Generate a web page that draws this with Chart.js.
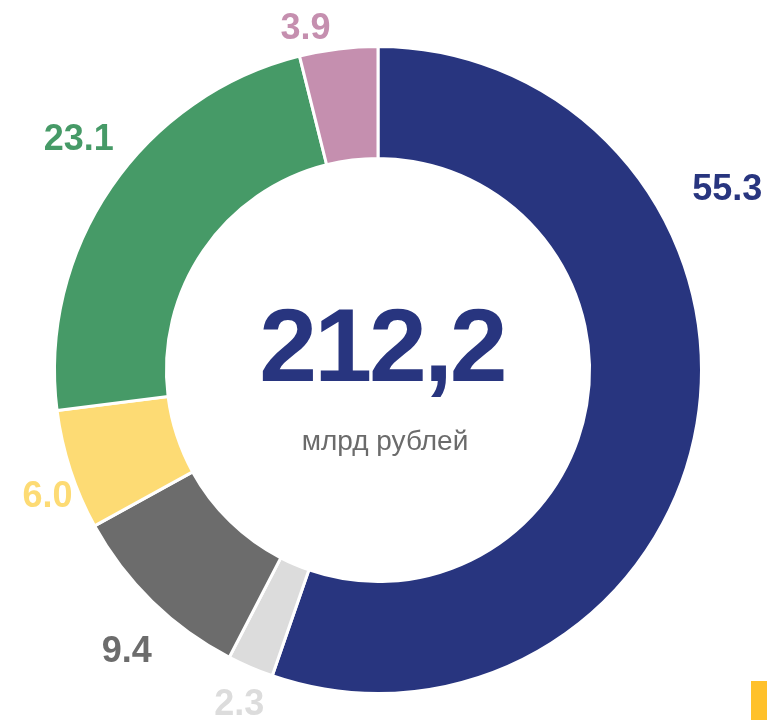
<!DOCTYPE html>
<html lang="ru">
<head>
<meta charset="utf-8">
<title>212,2 млрд рублей</title>
<script src="https://cdn.jsdelivr.net/npm/chart.js@4.4.1/dist/chart.umd.min.js"></script>
<style>
	html, body { margin: 0; padding: 0; background: #ffffff; }
	.wrap { position: relative; width: 767px; height: 720px; overflow: hidden; }
	.marker { position: absolute; left: 751px; top: 681px; width: 16px; height: 39px; background: #ffc12b; }
</style>
</head>
<body>
<div class="wrap">
	<canvas id="donut" width="767" height="720"></canvas>
	<div class="marker"></div>
</div>
<script>
	'use strict';
	// shares, %, clockwise from 12 o'clock
	const values = [ 55.3, 2.3, 9.4, 6.0, 23.1, 3.9 ];
	const valueLabels = [ '55.3', '2.3', '9.4', '6.0', '23.1', '3.9' ];
	const colors = [ '#28357f', '#dcdcdc', '#6c6c6c', '#fddb74', '#469a67', '#c58faf' ];
	const totalText = '212,2';
	const unitText = 'млрд рублей';

	// label placement: angle shift (deg) from slice middle, distance past outer edge (px)
	const labelShift = [ -37, -0.6, -2.4, -2.8, 3.4, -4.9 ];
	const labelDist = [ 70, 37, 53, 30, 55, 27 ];

	const fontFamily = '"Liberation Sans", Arial, Helvetica, sans-serif';

	const sliceLabels = {
		id: 'sliceLabels',
		afterDatasetsDraw(chart) {
			const ctx = chart.ctx;
			const arcs = chart.getDatasetMeta(0).data;
			ctx.save();
			ctx.font = 'bold 36px ' + fontFamily;
			ctx.textAlign = 'center';
			ctx.textBaseline = 'middle';
			arcs.forEach((arc, i) => {
				const mid = (arc.startAngle + arc.endAngle) / 2 + labelShift[i] * Math.PI / 180;
				const r = arc.outerRadius + labelDist[i];
				ctx.fillStyle = colors[i];
				ctx.fillText(valueLabels[i], arc.x + Math.cos(mid) * r, arc.y + Math.sin(mid) * r + 2);
			});

			// centre caption
			const cx = arcs[0].x, cy = arcs[0].y;
			ctx.fillStyle = '#28357f';
			ctx.font = 'bold 104px ' + fontFamily;
			ctx.letterSpacing = '-3px';
			ctx.textBaseline = 'alphabetic';
			ctx.fillText(totalText, cx + 4, cy + 11);
			ctx.letterSpacing = '0px';
			ctx.fillStyle = '#6b6b6b';
			ctx.font = '28px ' + fontFamily;
			ctx.fillText(unitText, cx + 7, cy + 80);
			ctx.restore();
		}
	};

	new Chart(document.getElementById('donut').getContext('2d'), {
		type: 'doughnut',
		data: {
			labels: valueLabels,
			datasets: [
				{
					data: values,
					backgroundColor: colors,
					borderColor: '#ffffff',
					borderWidth: 3,
					hoverOffset: 0
				}
			]
		},
		options: {
			responsive: false,
			animation: false,
			devicePixelRatio: 1,
			cutout: '65.4%',
			rotation: 0,
			layout: {
				padding: { left: 53, top: 45, right: 64, bottom: 25 }
			},
			plugins: {
				legend: { display: false },
				tooltip: { enabled: false }
			}
		},
		plugins: [ sliceLabels ]
	});
</script>
</body>
</html>
